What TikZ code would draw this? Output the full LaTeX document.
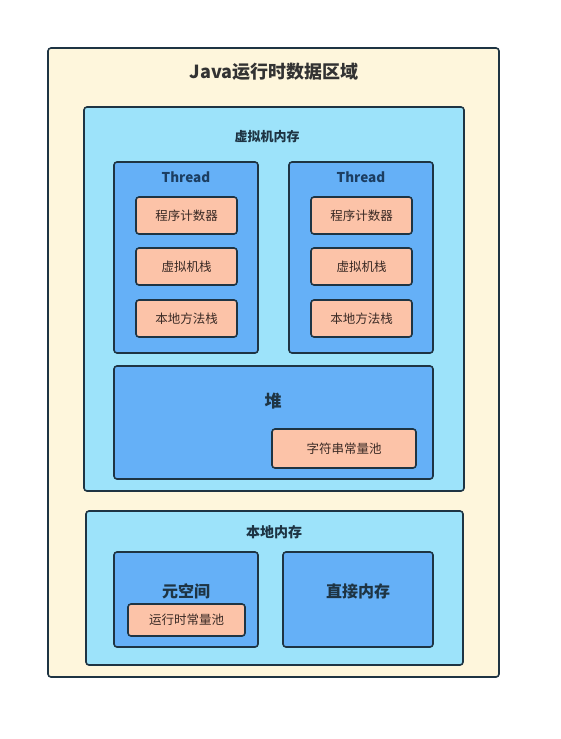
\documentclass[tikz,border=0pt]{standalone}
\usepackage{fontspec}
\setmainfont{Noto Sans CJK SC}
\definecolor{cream}{HTML}{FEF6DC}
\definecolor{skyblue}{HTML}{9DE3FA}
\definecolor{midblue}{HTML}{65B0F7}
\definecolor{salmon}{HTML}{FCC3A8}
\definecolor{edge}{HTML}{1E3443}
\definecolor{navy}{HTML}{1C3E62}
\definecolor{inktext}{HTML}{3A2A25}
\tikzset{
  outerbox/.style={draw=edge,line width=1.6pt,fill=cream,rounded corners=3pt},
  membox/.style={draw=edge,line width=1.6pt,fill=skyblue,rounded corners=3pt},
  areabox/.style={draw=edge,line width=1.6pt,fill=midblue,rounded corners=3pt},
  itembox/.style={draw=edge,line width=1.6pt,fill=salmon,rounded corners=3pt,
    minimum width=101pt,minimum height=37pt,font=\fontsize{12.5}{14}\selectfont,text=inktext},
  boxlabel/.style={font=\bfseries\fontsize{13}{15}\selectfont,text=edge},
  biglabel/.style={font=\bfseries\fontsize{16}{18}\selectfont,text=edge}
}
\begin{document}
\begin{tikzpicture}[x=1pt,y=-1pt]
\useasboundingbox (0,0) rectangle (561,739);
% Runtime data area
\draw[outerbox] (48,48) rectangle (499,677);
\node[font=\bfseries\fontsize{18}{20}\selectfont,text=black!80] (title) at (274,72) {Java运行时数据区域};

% JVM memory
\draw[membox] (84,107) rectangle (464,491);
\node[boxlabel] (jvm) at (267,137) {虚拟机内存};

% Threads
\foreach \n/\x in {a/114,b/289} {
  \draw[areabox] (\x,162) rectangle ++(144,191);
  \node[font=\bfseries\fontsize{13.5}{15}\selectfont,text=navy] (thread\n) at (\x+72,177) {Thread};
  \node[itembox] (pc\n) at (\x+72.5,215.5) {程序计数器};
  \node[itembox] (stack\n) at (\x+72.5,266.5) {虚拟机栈};
  \node[itembox] (native\n) at (\x+72.5,318.5) {本地方法栈};
}

% Heap
\draw[areabox] (114,366) rectangle (433,479);
\node[biglabel,font=\bfseries\fontsize{17}{19}\selectfont] (heap) at (273,401) {堆};
\node[itembox,minimum width=144pt,minimum height=39pt] (strpool) at (344,448.5) {字符串常量池};

% Native memory
\draw[membox] (86,511) rectangle (463,665);
\node[boxlabel,font=\bfseries\fontsize{14}{16}\selectfont] (local) at (274,532) {本地内存};
\draw[areabox] (114,552) rectangle (258,647);
\node[biglabel] (meta) at (186,591) {元空间};
\node[itembox,minimum width=117pt,minimum height=32pt] (rtpool) at (186.5,620) {运行时常量池};
\draw[areabox] (283,552) rectangle (433,647);
\node[biglabel] (direct) at (358,591) {直接内存};
\end{tikzpicture}
\end{document}
